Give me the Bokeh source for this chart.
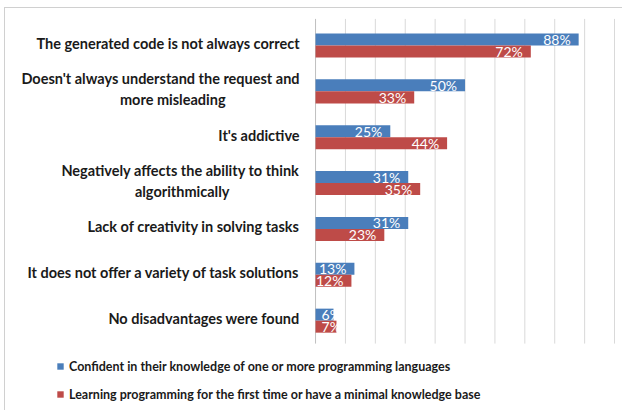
from bokeh.plotting import figure
from bokeh.models import ColumnDataSource, Range1d, Legend, LegendItem
from bokeh.transform import dodge
from bokeh.core.properties import value
from bokeh.embed import file_html
from bokeh.resources import INLINE

categories = [
    "The generated code is not always correct",
    "Doesn't always understand the request and\nmore misleading",
    "It's addictive",
    "Negatively affects the ability to think\nalgorithmically",
    "Lack of creativity in solving tasks",
    "It does not offer a variety of task solutions",
    "No disadvantages were found",
]
confident = [88, 50, 25, 31, 31, 13, 6]
learning = [72, 33, 44, 35, 23, 12, 7]
series_names = [
    "Confident in their knowledge of one or more programming languages",
    "Learning programming for the first time or have a minimal knowledge base",
]
grid_ticks = [0, 10, 20, 30, 40, 50, 60, 70, 80, 90, 100]
colors = ["#4a7ebb", "#be4b48"]

FONT = "Lato"
NB = "\u00a0"
n = len(categories)
pos = [n - 1 - i for i in range(n)]  # first category on top


def centered(label):
    # pad the shorter second line so both lines look centred under right alignment
    if "\n" not in label:
        return label
    a, b = label.split("\n")
    pad = {"more misleading": 21, "algorithmically": 20}.get(b, 0)
    return a + "\n" + b + NB * pad


p = figure(
    width=618, height=403,
    x_range=Range1d(-103.7, 103.0),
    y_range=Range1d(-1.981, 6.807),
    output_backend="svg", toolbar_location=None,
    min_border_left=0, min_border_right=0, min_border_top=0, min_border_bottom=0,
)
p.margin = (7, 0, 0, 4)
p.styles = {"border-top": "1px solid #d0d0d0", "border-left": "1px solid #d0d0d0"}
p.outline_line_color = None
p.axis.visible = False
p.grid.visible = False
p.background_fill_color = "white"
p.border_fill_color = "white"

# vertical gridlines (value axis), confined to the category area
gsrc = ColumnDataSource(dict(x=grid_ticks,
                             c=["#bfbfbf" if t == 0 else "#d9d9d9" for t in grid_ticks]))
p.segment(x0="x", x1="x", y0=-0.5, y1=6.58, source=gsrc, line_color="c", line_width=1)

# category labels (left of the value axis)
lsrc = ColumnDataSource(dict(pos=pos, label=[centered(c) for c in categories]))
p.text(x=0, y="pos", text="label", source=lsrc, x_offset=-16, y_offset=-2,
       text_align="right", text_baseline="middle", text_line_height=1.25,
       text_font=value(FONT), text_font_style="bold", text_font_size="14.5px",
       text_color="#1a1a1a")


def label_cols(vals):
    txt = [f"{v}%" for v in vals]
    fits = [v >= 10 for v in vals]
    xs = [v if f else 0 for v, f in zip(vals, fits)]
    al = ["right" if f else "left" for f in fits]
    off = [-8 if f else 6 for f in fits]
    return txt, xs, al, off


renderers = []
for vals, col, shift in [(confident, colors[0], 0.131), (learning, colors[1], -0.131)]:
    txt, xs, al, off = label_cols(vals)
    src = ColumnDataSource(dict(pos=pos, v=vals, txt=txt, lx=xs, al=al, off=off))
    r = p.hbar(y=dodge("pos", shift), right="v", left=0, height=0.262,
               source=src, fill_color=col, line_color=None)
    renderers.append(r)
    p.text(x="lx", y=dodge("pos", shift), text="txt", source=src,
           text_align="al", x_offset="off", text_baseline="middle",
           text_color="white", text_font=value(FONT), text_font_size="14px")

legend = Legend(
    items=[LegendItem(label=series_names[0], renderers=[renderers[0]]),
           LegendItem(label=series_names[1], renderers=[renderers[1]])],
    location=(51, 7), orientation="vertical",
    glyph_width=8, glyph_height=8, label_height=20, label_standoff=5,
    spacing=8, padding=0, margin=0, border_line_color=None, background_fill_alpha=0,
    label_text_font=FONT, label_text_font_size="12.5px", label_text_color="#1a1a1a",
    label_text_font_style="bold",
)
p.add_layout(legend, "center")

open("out.html", "w").write(file_html(p, INLINE))
